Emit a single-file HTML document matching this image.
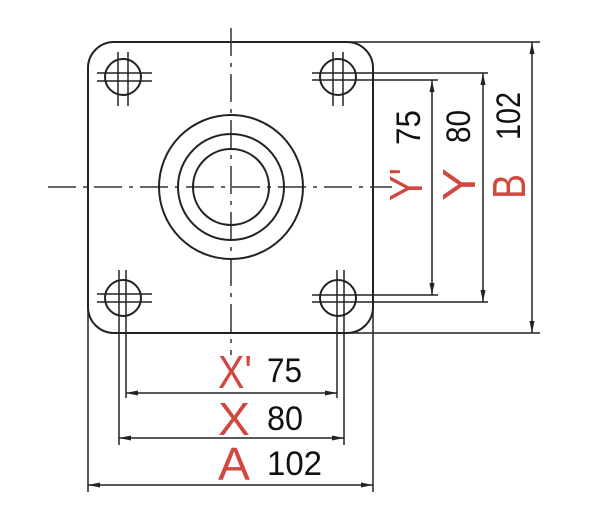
<!DOCTYPE html>
<html><head><meta charset="utf-8"><style>
html,body{margin:0;padding:0;background:#fff;}
svg{display:block;}
.k{stroke:#222;stroke-width:2;fill:none;}
.t{stroke:#222;stroke-width:1.5;fill:none;}
.c{stroke:#333;stroke-width:1.5;fill:none;stroke-dasharray:28 7 4 7;}
.n{font-family:"Liberation Sans",sans-serif;fill:#111;font-size:34px;}
.r{font-family:"Liberation Sans",sans-serif;fill:#d0483f;font-size:46px;}
</style></head><body>
<svg width="610" height="523" viewBox="0 0 610 523" xmlns="http://www.w3.org/2000/svg">
<defs>
<marker id="a" markerWidth="12" markerHeight="6" refX="12" refY="3" orient="auto" markerUnits="userSpaceOnUse">
<path d="M0,0.5 L12,3 L0,5.5 z" fill="#222"/></marker>
<marker id="b" markerWidth="12" markerHeight="6" refX="0" refY="3" orient="auto" markerUnits="userSpaceOnUse">
<path d="M12,0.5 L0,3 L12,5.5 z" fill="#222"/></marker>
</defs>
<!-- plate -->
<rect x="88" y="42" width="285" height="291" rx="26" class="k"/>
<!-- centerlines -->
<line x1="231" y1="28" x2="231" y2="355" class="c"/>
<line x1="48" y1="187" x2="392" y2="187" class="c"/>
<!-- circles -->
<circle cx="231" cy="187" r="72" class="k"/>
<circle cx="231" cy="187" r="53" class="k"/>
<circle cx="231" cy="187" r="38" class="k"/>
<!-- holes -->
<g class="k">
<circle cx="123" cy="77" r="18"/><circle cx="338" cy="77" r="18"/>
<circle cx="123" cy="298" r="18"/><circle cx="338" cy="298" r="18"/>
</g>
<g class="t">
<line x1="118" y1="52" x2="118" y2="106"/><line x1="128" y1="52" x2="128" y2="106"/>
<line x1="97" y1="73" x2="152" y2="73"/><line x1="97" y1="81" x2="152" y2="81"/>
<line x1="333" y1="52" x2="333" y2="106"/><line x1="343" y1="52" x2="343" y2="106"/>
<line x1="312" y1="73" x2="488" y2="73"/><line x1="312" y1="80" x2="438" y2="80"/>
<line x1="119" y1="270" x2="119" y2="445"/><line x1="126" y1="270" x2="126" y2="398"/>
<line x1="97" y1="294" x2="152" y2="294"/><line x1="97" y1="302" x2="152" y2="302"/>
<line x1="337" y1="270" x2="337" y2="398"/><line x1="344" y1="270" x2="344" y2="445"/>
<line x1="312" y1="295" x2="438" y2="295"/><line x1="312" y1="302" x2="488" y2="302"/>
<!-- outer extension -->
<line x1="88" y1="300" x2="88" y2="492"/><line x1="373" y1="300" x2="373" y2="492"/>
<line x1="350" y1="42" x2="540" y2="42"/><line x1="350" y1="333" x2="540" y2="333"/>
<!-- dims -->
<line x1="432" y1="80" x2="432" y2="295" marker-start="url(#b)" marker-end="url(#a)"/>
<line x1="483" y1="73" x2="483" y2="302" marker-start="url(#b)" marker-end="url(#a)"/>
<line x1="532" y1="42" x2="532" y2="333" marker-start="url(#b)" marker-end="url(#a)"/>
<line x1="126" y1="393" x2="337" y2="393" marker-start="url(#b)" marker-end="url(#a)"/>
<line x1="119" y1="438" x2="344" y2="438" marker-start="url(#b)" marker-end="url(#a)"/>
<line x1="88" y1="485" x2="373" y2="485" marker-start="url(#b)" marker-end="url(#a)"/>
</g>
<!-- bottom labels -->
<text x="218" y="388" class="r" textLength="34" lengthAdjust="spacingAndGlyphs">X'</text>
<text x="267" y="382" class="n" textLength="35" lengthAdjust="spacingAndGlyphs">75</text>
<text x="218" y="435" class="r" textLength="32" lengthAdjust="spacingAndGlyphs">X</text>
<text x="267" y="430" class="n" textLength="36" lengthAdjust="spacingAndGlyphs">80</text>
<text x="218" y="480" class="r" textLength="32" lengthAdjust="spacingAndGlyphs">A</text>
<text x="267" y="475" class="n" textLength="55" lengthAdjust="spacingAndGlyphs">102</text>
<!-- right labels -->
<text transform="translate(420,145) rotate(-90)" class="n" textLength="35" lengthAdjust="spacingAndGlyphs">75</text>
<text transform="translate(422,201) rotate(-90)" class="r" textLength="33" lengthAdjust="spacingAndGlyphs">Y'</text>
<text transform="translate(470,143) rotate(-90)" class="n" textLength="33" lengthAdjust="spacingAndGlyphs">80</text>
<text transform="translate(475,201) rotate(-90)" class="r" textLength="33" lengthAdjust="spacingAndGlyphs">Y</text>
<text transform="translate(520,140) rotate(-90)" class="n" textLength="48" lengthAdjust="spacingAndGlyphs">102</text>
<text transform="translate(525,199) rotate(-90)" class="r" textLength="25" lengthAdjust="spacingAndGlyphs">B</text>
</svg>
</body></html>
